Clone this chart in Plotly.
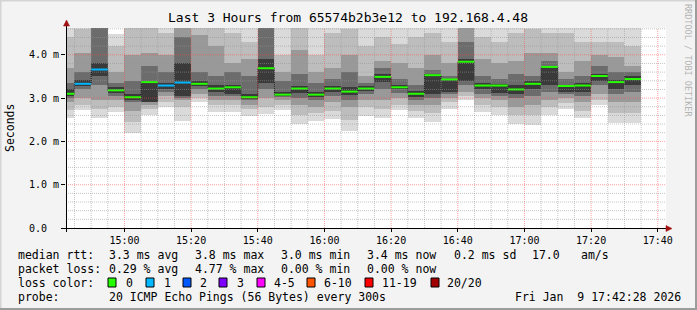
import plotly.graph_objects as go
import pandas as pd

# ---------------- data ----------------
first_bar_start = "2026-01-09 14:40:00"
range_start = "2026-01-09 14:42:28"
range_end = "2026-01-09 17:42:28"
step_s = 300

median_ms = [3.10, 3.33, 3.66, 3.18, 3.02, 3.37, 3.29, 3.36, 3.33, 3.22,
             3.25, 3.02, 3.69, 3.08, 3.22, 3.08, 3.22, 3.15, 3.22, 3.49,
             3.25, 3.10, 3.53, 3.43, 3.84, 3.29, 3.29, 3.20, 3.33, 3.72,
             3.28, 3.29, 3.51, 3.37, 3.44]
loss_count = [0, 1, 1, 0, 0, 0, 1, 1, 0, 0,
              0, 0, 0, 0, 0, 0, 0, 0, 0, 0,
              0, 0, 0, 0, 0, 0, 0, 0, 0, 0,
              0, 0, 0, 0, 0]

# smoke bands (ms): outermost (min..max) to innermost
band1_lo = [2.53, 2.73, 2.55, 2.68, 2.20, 2.60, 2.79, 2.46, 2.90, 2.69, 2.69, 2.58, 2.63, 2.72, 2.41, 2.46, 2.51, 2.25, 2.58, 2.55, 2.72, 2.53, 2.44, 2.74, 2.95, 2.69, 2.62, 2.41, 2.39, 2.62, 2.75, 2.53, 2.85, 2.42, 2.42]
band1_hi = [4.90, 4.90, 4.90, 4.48, 4.90, 4.90, 4.90, 4.90, 4.90, 4.90, 4.90, 4.90, 4.90, 4.90, 4.90, 4.90, 4.90, 4.90, 4.90, 4.90, 4.90, 4.90, 4.90, 4.90, 4.90, 4.90, 4.90, 4.90, 4.90, 4.90, 4.90, 4.90, 4.90, 4.90, 4.90]
band2_lo = [2.72, 2.85, 2.75, 2.80, 2.45, 2.75, 2.90, 2.80, 3.00, 2.85, 2.85, 2.75, 2.80, 2.85, 2.60, 2.65, 2.70, 2.50, 2.80, 2.75, 2.85, 2.70, 2.65, 2.90, 3.05, 2.85, 2.80, 2.60, 2.60, 2.80, 2.88, 2.70, 2.95, 2.65, 2.65]
band2_hi = [4.40, 4.60, 4.90, 4.20, 4.70, 4.90, 4.50, 4.90, 4.90, 4.90, 4.50, 4.30, 4.90, 4.00, 4.70, 4.00, 4.50, 4.60, 4.20, 4.40, 4.25, 4.40, 4.50, 4.30, 4.90, 4.40, 4.30, 4.50, 4.60, 4.50, 4.50, 4.30, 4.30, 4.30, 4.20]
band3_lo = [2.90, 3.00, 2.95, 2.95, 2.70, 2.85, 3.05, 2.95, 3.10, 2.95, 2.95, 2.85, 3.00, 2.95, 2.85, 2.80, 2.90, 2.80, 2.95, 2.95, 3.00, 2.85, 2.85, 3.00, 3.15, 3.00, 2.95, 2.80, 2.85, 2.95, 3.00, 2.90, 3.10, 2.90, 2.90]
band3_hi = [3.70, 4.05, 4.90, 3.60, 4.00, 4.05, 4.00, 4.90, 4.45, 4.20, 3.80, 3.90, 4.90, 3.60, 4.10, 3.60, 3.70, 4.00, 3.50, 3.85, 3.80, 3.70, 4.00, 3.80, 4.90, 3.90, 3.80, 3.85, 4.05, 4.05, 3.60, 3.85, 4.00, 3.95, 3.75]
band4_lo = [3.00, 3.20, 3.30, 3.05, 2.90, 2.90, 3.15, 3.00, 3.20, 3.05, 3.05, 2.95, 3.20, 3.02, 3.00, 2.95, 3.05, 2.95, 3.10, 3.20, 3.12, 2.95, 3.00, 3.10, 3.30, 3.10, 3.05, 3.00, 3.05, 3.15, 3.10, 3.05, 3.30, 3.10, 3.15]
band4_hi = [3.35, 3.60, 4.80, 3.35, 3.40, 3.75, 3.60, 4.40, 3.60, 3.50, 3.60, 3.50, 4.80, 3.40, 3.55, 3.35, 3.45, 3.60, 3.35, 3.70, 3.45, 3.30, 3.65, 3.50, 4.30, 3.50, 3.45, 3.55, 3.50, 3.85, 3.45, 3.50, 3.75, 3.60, 3.60]
band5_lo = [3.05, 3.28, 3.50, 3.12, 2.95, 2.90, 3.22, 3.05, 3.27, 3.15, 3.10, 2.98, 3.35, 3.05, 3.12, 3.03, 3.15, 3.08, 3.17, 3.38, 3.20, 3.03, 3.10, 3.15, 3.40, 3.20, 3.12, 3.10, 3.20, 3.30, 3.15, 3.15, 3.40, 3.20, 3.30]
band5_hi = [3.20, 3.42, 3.80, 3.25, 3.10, 3.40, 3.35, 3.80, 3.40, 3.30, 3.30, 3.10, 3.90, 3.15, 3.28, 3.15, 3.28, 3.25, 3.28, 3.55, 3.30, 3.17, 3.55, 3.45, 3.90, 3.35, 3.32, 3.30, 3.40, 3.75, 3.30, 3.35, 3.55, 3.42, 3.50]

band_colors = ["#dadada", "#bdbdbd", "#999999", "#6c6c6c", "#3a3a3a"]

y_tick_vals = [0, 1, 2, 3, 4]
y_tick_text = ["0.0\u00a0\u00a0", "1.0 m", "2.0 m", "3.0 m", "4.0 m"]

loss_labels = ["0", "1", "2", "3", "4-5", "6-10", "11-19", "20/20"]
loss_colors = ["#26ff00", "#00b8ff", "#0059ff", "#7e00ff", "#ff00ff", "#ff5500", "#ff0000", "#a10000"]

title_text = "Last 3 Hours from 65574b2b3e12 to 192.168.4.48"
rtt_parts = ["median rtt:", "3.3 ms avg", "3.8 ms max", "3.0 ms min", "3.4 ms now", "0.2 ms sd", "17.0", "am/s"]
loss_parts = ["packet loss:", "0.29 % avg", "4.77 % max", "0.00 % min", "0.00 % now"]
probe_parts = ["probe:", "20 ICMP Echo Pings (56 Bytes) every 300s"]
stamp = "Fri Jan  9 17:42:28 2026"
watermark = "RRDTOOL / TOBI OETIKER"

# ---------------- geometry helpers (pixel -> paper) ----------------
W, H = 697, 310
PL, PR, PT, PB = 66, 666, 28, 228
def px(x):
    return (x - PL) / (PR - PL)
def py(y):
    return (PB - y) / (PB - PT)

MONO = "DejaVu Sans Mono"

n = len(median_ms)
starts = pd.date_range(first_bar_start, periods=n, freq=f"{step_s}s")
centers = starts + pd.Timedelta(seconds=step_s / 2)
ends = starts + pd.Timedelta(seconds=step_s)
fmt = lambda t: t.strftime("%Y-%m-%d %H:%M:%S")
xc = [fmt(t) for t in centers]

fig = go.Figure()
bands = [(band1_lo, band1_hi), (band2_lo, band2_hi), (band3_lo, band3_hi),
         (band4_lo, band4_hi), (band5_lo, band5_hi)]
for (lo, hi), col in zip(bands, band_colors):
    fig.add_trace(go.Bar(
        x=xc, base=lo, y=[h - l for l, h in zip(lo, hi)],
        width=[step_s * 1000] * n, marker=dict(color=col, line=dict(width=0)),
        hoverinfo="skip", showlegend=False))

# dotted connectors of the median step line
step_x = [fmt(t) for t in starts] + [fmt(ends[-1])]
step_y = list(median_ms) + [median_ms[-1]]
fig.add_trace(go.Scatter(x=step_x, y=step_y, mode="lines", line_shape="hv",
                         line=dict(color="#000000", width=1, dash="1px,1px"),
                         hoverinfo="skip", showlegend=False))

def loss_idx(c):
    if c <= 3:
        return c
    if c <= 5:
        return 4
    if c <= 10:
        return 5
    if c <= 19:
        return 6
    return 7

for ci, col in enumerate(loss_colors):
    xs, ys = [], []
    for i in range(n):
        if loss_idx(loss_count[i]) == ci:
            xs += [fmt(starts[i]), fmt(ends[i]), None]
            ys += [median_ms[i], median_ms[i], None]
    if xs:
        fig.add_trace(go.Scatter(x=xs, y=ys, mode="lines",
                                 line=dict(color=col, width=2),
                                 hoverinfo="skip", showlegend=False))

shapes = []
# grid drawn above smoke, like rrdtool
minor_col = "rgba(150,150,150,0.55)"
major_col = "rgba(255,70,70,0.5)"
grid_times = pd.date_range("2026-01-09 14:45:00", "2026-01-09 17:40:00", freq="300s")
for t in grid_times:
    major = (t.minute % 20 == 0)
    shapes.append(dict(type="line", xref="x", yref="paper", x0=fmt(t), x1=fmt(t), y0=0, y1=1,
                       line=dict(color=major_col if major else minor_col, width=1, dash="1px,1px"),
                       layer="above"))
for k in range(1, 24):
    v = k * 0.2
    major = (k % 5 == 0)
    shapes.append(dict(type="line", xref="paper", yref="y", x0=0, x1=1, y0=v, y1=v,
                       line=dict(color=major_col if major else minor_col, width=1, dash="1px,1px"),
                       layer="above"))

# axes + arrows
shapes.append(dict(type="line", xref="paper", yref="paper", x0=px(62), x1=px(668), y0=py(228.5), y1=py(228.5),
                   line=dict(color="#000000", width=1), layer="above"))
shapes.append(dict(type="line", xref="paper", yref="paper", x0=px(66.5), x1=px(66.5), y0=py(232), y1=py(24),
                   line=dict(color="#000000", width=1), layer="above"))
arrow_col = "#a01010"
shapes.append(dict(type="path", xref="paper", yref="paper",
                   path=f"M {px(666)} {py(225.5)} L {px(672)} {py(228.5)} L {px(666)} {py(231.5)} Z",
                   fillcolor=arrow_col, line=dict(color=arrow_col, width=0.5), layer="above"))
shapes.append(dict(type="path", xref="paper", yref="paper",
                   path=f"M {px(63.5)} {py(26)} L {px(66.5)} {py(20)} L {px(69.5)} {py(26)} Z",
                   fillcolor=arrow_col, line=dict(color=arrow_col, width=0.5), layer="above"))

# frame of the image
shapes.append(dict(type="line", xref="paper", yref="paper", x0=px(0), x1=px(697), y0=py(0.5), y1=py(0.5),
                   line=dict(color="#d4d4d4", width=2)))
shapes.append(dict(type="line", xref="paper", yref="paper", x0=px(0.5), x1=px(0.5), y0=py(0), y1=py(310),
                   line=dict(color="#d4d4d4", width=2)))
shapes.append(dict(type="line", xref="paper", yref="paper", x0=px(0), x1=px(697), y0=py(309), y1=py(309),
                   line=dict(color="#9c9c9c", width=2)))
shapes.append(dict(type="line", xref="paper", yref="paper", x0=px(696), x1=px(696), y0=py(0), y1=py(310),
                   line=dict(color="#9c9c9c", width=2)))

annotations = []
def txt(x, y, s, size=11.5, color="#000000", xanchor="left", angle=0, family=MONO):
    annotations.append(dict(text=s.replace(" ", "\u00a0"), x=px(x), y=py(y), xref="paper", yref="paper",
                            xanchor=xanchor, yanchor="middle", showarrow=False,
                            textangle=angle, font=dict(family=family, size=size, color=color)))

txt(348, 18, title_text, size=13, xanchor="center")
txt(10, 128, "Seconds", size=11.5, xanchor="center", angle=-90)
txt(688, 60, watermark, size=8.5, color="#b4b4b4", xanchor="center", angle=90)

rtt_x = [16, 107, 193, 279, 365, 452, 530, 579]
for s, x in zip(rtt_parts, rtt_x):
    txt(x, 254.5, s)
loss_x = [16, 107, 193, 279, 365]
for s, x in zip(loss_parts, loss_x):
    txt(x, 268.5, s)
txt(16, 282.5, "loss color:")
for s, x in zip(probe_parts, [16, 107]):
    txt(x, 296.5, s)
txt(513, 296.5, stamp)

box_x = [108, 146, 183, 219, 257, 307, 365, 431]
lab_x = [124, 162, 198, 235, 272, 322, 380, 445]
for bx, lx, lab, col in zip(box_x, lab_x, loss_labels, loss_colors):
    shapes.append(dict(type="rect", xref="paper", yref="paper",
                       x0=px(bx), x1=px(bx + 8), y0=py(278), y1=py(287),
                       fillcolor=col, line=dict(color="#000000", width=1)))
    txt(lx, 282.5, lab)

fig.update_layout(
    width=W, height=H,
    margin=dict(l=PL, r=W - PR, t=PT, b=H - PB, pad=0),
    paper_bgcolor="#f3f3f3", plot_bgcolor="#ffffff",
    barmode="overlay", bargap=0, showlegend=False,
    shapes=shapes, annotations=annotations,
    xaxis=dict(type="date", range=[range_start, range_end], showgrid=False, zeroline=False,
               showline=False, tickformat="%H:%M", dtick=20 * 60 * 1000,
               tick0="2026-01-09 15:00:00", ticks="outside", ticklen=3, tickcolor="#000000",
               tickfont=dict(family=MONO, size=10, color="#000000"), fixedrange=True),
    yaxis=dict(range=[0, (PB - PT) / 43.3], showgrid=False, zeroline=False, showline=False,
               tickvals=y_tick_vals, ticktext=y_tick_text, ticks="outside", ticklen=4,
               tickcolor="#000000", ticklabelstandoff=0,
               tickfont=dict(family=MONO, size=10, color="#000000"), fixedrange=True),
)

fig.write_html("out.html")
